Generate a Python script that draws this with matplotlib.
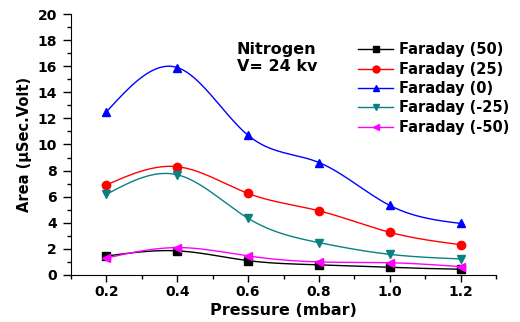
import numpy as np
import matplotlib
matplotlib.use("Agg")
import matplotlib.pyplot as plt
from matplotlib.ticker import MultipleLocator

plt.rcParams['font.family'] = ['DejaVu Sans']
plt.rcParams['font.weight'] = 'bold'

pressure = [0.2, 0.4, 0.6, 0.8, 1.0, 1.2]
faraday_50 = [1.45, 1.85, 1.1, 0.78, 0.58, 0.44]
faraday_25 = [6.9, 8.3, 6.25, 4.92, 3.27, 2.32]
faraday_0 = [12.5, 15.9, 10.7, 8.62, 5.33, 3.95]
faraday_m25 = [6.18, 7.68, 4.34, 2.48, 1.58, 1.23]
faraday_m50 = [1.3, 2.1, 1.46, 1.0, 0.94, 0.64]

labels = ['Faraday (50)', 'Faraday (25)', 'Faraday (0)', 'Faraday (-25)', 'Faraday (-50)']
series = [faraday_50, faraday_25, faraday_0, faraday_m25, faraday_m50]
colors = ['black', 'red', 'blue', '#0a8080', 'magenta']
markers = ['s', 'o', '^', 'v', '<']


def natural_spline(x, y, n=200):
    x = np.asarray(x, float)
    y = np.asarray(y, float)
    k = len(x)
    h = np.diff(x)
    A = np.zeros((k, k))
    b = np.zeros(k)
    A[0, 0] = 1
    A[-1, -1] = 1
    for i in range(1, k - 1):
        A[i, i - 1] = h[i - 1]
        A[i, i] = 2 * (h[i - 1] + h[i])
        A[i, i + 1] = h[i]
        b[i] = 6 * ((y[i + 1] - y[i]) / h[i] - (y[i] - y[i - 1]) / h[i - 1])
    M = np.linalg.solve(A, b)
    xs = np.linspace(x[0], x[-1], n)
    ys = np.empty_like(xs)
    for j, xv in enumerate(xs):
        i = min(np.searchsorted(x, xv, side='right') - 1, k - 2)
        t1 = x[i + 1] - xv
        t0 = xv - x[i]
        ys[j] = (M[i] * t1 ** 3 / (6 * h[i]) + M[i + 1] * t0 ** 3 / (6 * h[i])
                 + (y[i] / h[i] - M[i] * h[i] / 6) * t1
                 + (y[i + 1] / h[i] - M[i + 1] * h[i] / 6) * t0)
    return xs, ys


fig = plt.figure(figsize=(5.2, 3.22), dpi=100)
ax = fig.add_axes([0.1365, 0.146, 0.8175, 0.8105])

for vals, lab, c, m in zip(series, labels, colors, markers):
    xs, ys = natural_spline(pressure, vals)
    ax.plot(xs, ys, color=c, lw=1.0)
    ax.plot(pressure, vals, linestyle='none', marker=m, color=c, markersize=6)
    ax.plot([], [], color=c, lw=1.0, marker=m, markersize=5, label=lab)

ax.set_xlim(0.1, 1.3)
ax.set_ylim(0, 20)
ax.xaxis.set_minor_locator(MultipleLocator(0.1))
ax.yaxis.set_major_locator(MultipleLocator(2))
ax.yaxis.set_minor_locator(MultipleLocator(1))
ax.set_xticks([0.2, 0.4, 0.6, 0.8, 1.0, 1.2])
ax.set_xticklabels(['0.2', '0.4', '0.6', '0.8', '1.0', '1.2'])
ax.spines['top'].set_visible(False)
ax.spines['right'].set_visible(False)
ax.tick_params(which='major', direction='out', width=1, labelsize=10)
ax.tick_params(axis='x', which='major', length=5, pad=2)
ax.tick_params(axis='y', which='major', length=6, pad=4)
ax.tick_params(which='minor', direction='out', length=3, width=1)
for lbl in ax.get_xticklabels() + ax.get_yticklabels():
    lbl.set_fontweight('bold')

ax.set_xlabel('Pressure (mbar)', fontsize=11.5, fontweight='bold', labelpad=3)
ax.set_ylabel('Area (µSec.Volt)', fontsize=10.5, fontweight='bold', labelpad=4)

fig.text(237 / 520, 1 - 42 / 322, 'Nitrogen\nV= 24 kv', fontsize=11.5, fontweight='bold',
         va='top', ha='left', linespacing=1.15)

leg = ax.legend(loc='upper left', bbox_to_anchor=(351 / 520, 1 - 35 / 322),
                bbox_transform=fig.transFigure, frameon=False,
                handlelength=2.4, handletextpad=0.4, labelspacing=0.3,
                borderpad=0, prop={'weight': 'bold', 'size': 10.5})

fig.savefig('out.png', dpi=100)
